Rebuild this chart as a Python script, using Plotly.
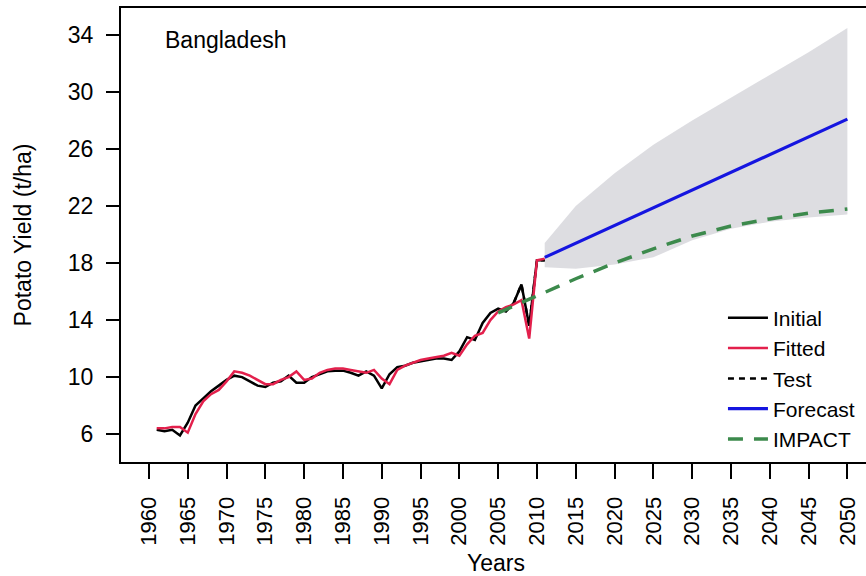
import plotly.graph_objects as go

# Observed potato yield, Bangladesh (t/ha)
years_obs = list(range(1961, 2012))
initial = [6.3, 6.2, 6.3, 5.9, 6.8, 8.0, 8.5, 9.0, 9.4, 9.8,
           10.1, 10.0, 9.7, 9.4, 9.3, 9.6, 9.7, 10.1, 9.6, 9.6,
           10.0, 10.2, 10.4, 10.45, 10.45, 10.3, 10.1, 10.4, 10.1, 9.2,
           10.2, 10.7, 10.8, 11.0, 11.1, 11.2, 11.3, 11.3, 11.2, 11.8,
           12.8, 12.6, 13.8, 14.5, 14.8, 14.6, 15.2, 16.5, 13.6, 18.2,
           18.2]

# Model fitted values
fitted = [6.4, 6.4, 6.5, 6.5, 6.1, 7.4, 8.3, 8.8, 9.1, 9.7,
          10.4, 10.3, 10.1, 9.8, 9.5, 9.5, 9.8, 10.0, 10.4, 9.8,
          9.9, 10.3, 10.5, 10.6, 10.6, 10.5, 10.4, 10.3, 10.5, 9.9,
          9.5, 10.5, 10.8, 11.0, 11.2, 11.3, 11.4, 11.5, 11.7, 11.5,
          12.3, 12.9, 13.1, 14.0, 14.6, 14.9, 15.1, 15.4, 12.7, 18.2,
          18.3]

# Hold-out test window
years_test = [2007, 2008, 2009, 2010, 2011]
test = [15.2, 16.5, 13.6, 18.2, 18.2]

# Forecast with prediction interval
years_fc = [2011, 2015, 2020, 2025, 2030, 2035, 2040, 2045, 2050]
forecast = [18.4, 19.4, 20.6, 21.9, 23.1, 24.4, 25.6, 26.9, 28.1]
fc_upper = [19.4, 22.0, 24.3, 26.3, 28.0, 29.6, 31.2, 32.8, 34.5]
fc_lower = [17.7, 17.6, 17.9, 18.4, 19.6, 20.4, 20.9, 21.2, 21.4]

# IMPACT model projection
years_impact = [2005, 2010, 2015, 2020, 2025, 2030, 2035, 2040, 2045, 2050]
impact = [14.5, 15.7, 16.9, 18.0, 19.0, 19.9, 20.6, 21.1, 21.5, 21.8]

x_ticks = list(range(1960, 2051, 5))
y_ticks = [6, 10, 14, 18, 22, 26, 30, 34]

FONT = "Liberation Sans, Arial, sans-serif"
FS = 23

fig = go.Figure()

fig.add_trace(go.Scatter(x=years_fc, y=fc_upper, mode="lines",
                         line=dict(width=0), showlegend=False, hoverinfo="skip"))
fig.add_trace(go.Scatter(x=years_fc, y=fc_lower, mode="lines",
                         line=dict(width=0), fill="tonexty",
                         fillcolor="rgba(200,200,206,0.62)",
                         showlegend=False, hoverinfo="skip"))

fig.add_trace(go.Scatter(x=years_test, y=test, mode="lines", name="Test",
                         legendrank=3,
                         line=dict(color="black", width=2.5, dash="6px,5px")))
fig.add_trace(go.Scatter(x=years_obs, y=initial, mode="lines", name="Initial",
                         legendrank=1, line=dict(color="black", width=2.5)))
fig.add_trace(go.Scatter(x=years_obs, y=fitted, mode="lines", name="Fitted",
                         legendrank=2, line=dict(color="#e3204c", width=2.5)))
fig.add_trace(go.Scatter(x=years_impact, y=impact, mode="lines", name="IMPACT",
                         legendrank=5,
                         line=dict(color="#3c8a4c", width=3.5, dash="15px,11px")))
fig.add_trace(go.Scatter(x=years_fc, y=forecast, mode="lines", name="Forecast",
                         legendrank=4, line=dict(color="#1515e0", width=3.2)))

fig.add_annotation(text="Bangladesh", xref="paper", yref="paper",
                   x=0.057, y=0.93, xanchor="left", yanchor="middle",
                   showarrow=False, font=dict(family=FONT, size=FS, color="black"))

# x-axis title placed just below the rotated year labels
fig.add_annotation(text="Years", xref="paper", yref="paper",
                   x=0.503, y=-0.222, xanchor="center", yanchor="middle",
                   showarrow=False, font=dict(family=FONT, size=FS, color="black"))

fig.update_layout(
    width=866, height=576,
    margin=dict(l=121, r=0, t=8, b=114),
    paper_bgcolor="white", plot_bgcolor="white",
    font=dict(family=FONT, size=FS, color="black"),
    showlegend=True,
    legend=dict(x=0.808, y=0.362, xanchor="left", yanchor="top",
                traceorder="normal",
                bgcolor="rgba(0,0,0,0)", font=dict(family=FONT, size=21),
                tracegroupgap=0, itemwidth=40),
    xaxis=dict(range=[1956.4, 2052.4], tickvals=x_ticks, tickangle=-90,
               ticks="outside", ticklen=15, tickwidth=2, tickcolor="black",
               showline=True, linewidth=2, linecolor="black", mirror=True,
               showgrid=False, zeroline=False, ticklabelstandoff=9,
               tickfont=dict(family=FONT, size=22), automargin=False),
    yaxis=dict(range=[4.04, 35.9], tickvals=y_ticks,
               ticks="outside", ticklen=13, tickwidth=2, tickcolor="black",
               showline=True, linewidth=2, linecolor="black",
               showgrid=False, zeroline=False, ticklabelstandoff=8,
               automargin=False,
               title=dict(text="Potato Yield (t/ha)", standoff=30,
                          font=dict(family=FONT, size=FS))),
)

fig.write_html("out.html")
